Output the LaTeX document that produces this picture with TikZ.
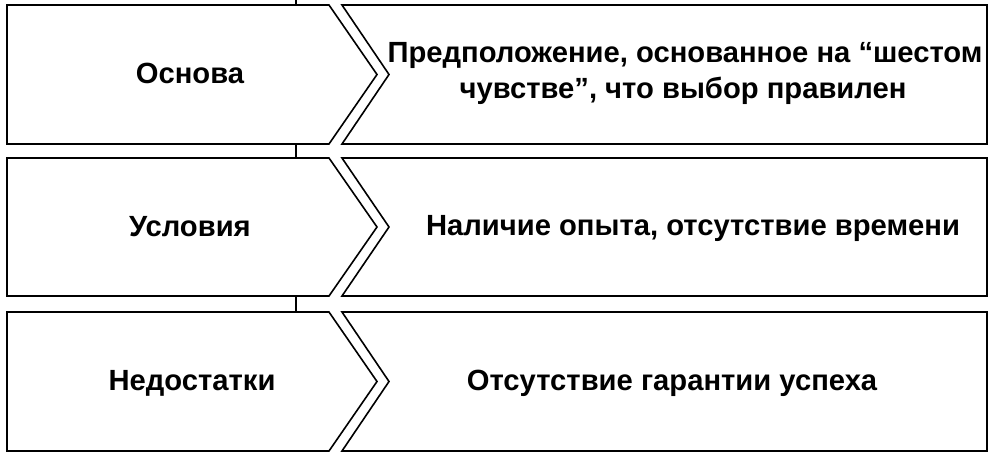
\documentclass[tikz,border=0pt]{standalone}
\usepackage{fontspec}
\setmainfont{Liberation Sans}
\begin{document}
\begin{tikzpicture}[x=1pt,y=-1pt,
  box/.style={draw=black,fill=white,line width=1.6pt,line join=miter},
  lbl/.style={anchor=base,inner sep=0pt,font=\fontsize{29.2}{36}\selectfont\bfseries},
  guide/.style={draw=black,line width=1.6pt}]
\useasboundingbox (0,0) rectangle (998,463);
% background vertical guide seen in the gaps
\coordinate (gtop) at (296,0);
\coordinate (gbot) at (296,312);
\draw[guide] (gtop) -- (gbot);
% rows
\foreach \t/\b [count=\i] in {5/144,158/296,312/451}{
  \pgfmathsetmacro{\m}{(\t+\b)/2}
  \draw[box] (7,\t) -- (329,\t) -- (377,\m) -- (329,\b) -- (7,\b) -- cycle;
  \draw[box] (342,\t) -- (987,\t) -- (987,\b) -- (342,\b) -- (389,\m) -- cycle;
}
% left labels
\node[lbl] (l1) at (190,83) {Основа};
\node[lbl] (l2) at (190,236) {Условия};
\node[lbl] (l3) at (192,390) {Недостатки};
% right labels
\node[lbl] (r1a) at (685,62.5) {Предположение, основанное на “шестом};
\node[lbl] (r1b) at (683,98.5) {чувстве”, что выбор правилен};
\node[lbl] (r2) at (693,235) {Наличие опыта, отсутствие времени};
\node[lbl] (r3) at (672,390) {Отсутствие гарантии успеха};
\end{tikzpicture}
\end{document}
